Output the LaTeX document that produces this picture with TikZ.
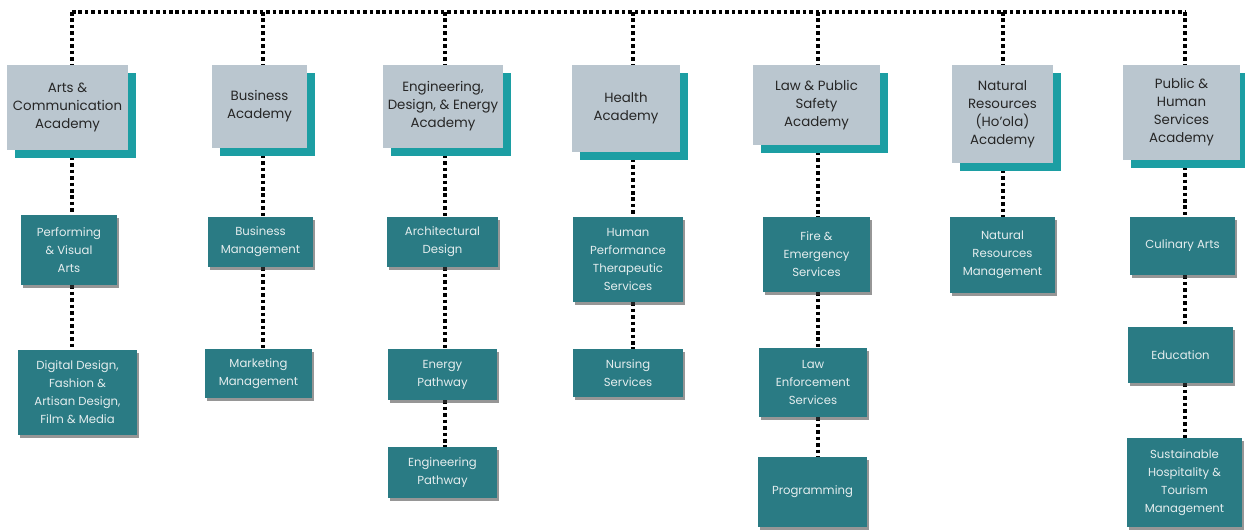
\documentclass[tikz,border=0pt]{standalone}
\usepackage{fontspec}
\setmainfont{Poppins}
\usetikzlibrary{positioning, shadows, backgrounds}
\definecolor{acadgray}{RGB}{186,198,207}
\definecolor{acadteal}{RGB}{28,158,163}
\definecolor{trackteal}{RGB}{42,123,132}
\definecolor{tracktext}{RGB}{228,237,238}

\begin{document}
\begin{tikzpicture}[x=0.025cm, y=-0.025cm,
  academy/.style={fill=acadgray, text=black!85, align=center, inner sep=1pt,
    font=\fontsize{9.5}{12.8}\selectfont,
    drop shadow={shadow xshift=0.21cm, shadow yshift=-0.2cm, fill=acadteal, opacity=1}},
  track/.style={fill=trackteal, text=tracktext, align=center, inner sep=1pt,
    font=\fontsize{8.3}{12.8}\selectfont,
    drop shadow={shadow xshift=0.06cm, shadow yshift=-0.07cm, fill=black!75, opacity=0.55}},
  link/.style={line width=2.8pt, dash pattern=on 2.5pt off 2.1pt}]
\useasboundingbox (0,0) rectangle (1245,529);

% Academies
\node[academy, minimum width=3.02cm, minimum height=2.12cm] (arts) at (67.5,107.5) {Arts \&\\Communication\\Academy};
\node[academy, minimum width=2.37cm, minimum height=2.07cm] (business) at (259.5,106.5) {Business\\Academy};
\node[academy, minimum width=3.0cm, minimum height=2.07cm] (engineering) at (443,106.5) {Engineering,\\Design, \& Energy\\Academy};
\node[academy, minimum width=2.7cm, minimum height=2.17cm] (health) at (626,108.5) {Health\\Academy};
\node[academy, minimum width=3.17cm, minimum height=2.0cm] (law) at (816.5,105) {Law \& Public\\Safety\\Academy};
\node[academy, minimum width=2.52cm, minimum height=2.45cm] (natural) at (1002.5,114) {Natural\\Resources\\(Ho'ola)\\Academy};
\node[academy, minimum width=2.92cm, minimum height=2.37cm] (public) at (1181.5,112.5) {Public \&\\Human\\Services\\Academy};

% Arts & Communication
\node[track, minimum width=2.4cm, minimum height=1.75cm] (perform) at (69,250) {Performing\\\& Visual\\Arts};
\node[track, minimum width=2.97cm, minimum height=2.12cm] (digital) at (77.5,392.5) {Digital Design,\\Fashion \&\\Artisan Design,\\Film \& Media};
% Business
\node[track, minimum width=2.62cm, minimum height=1.25cm] (bizmgmt) at (260.5,242) {Business\\Management};
\node[track, minimum width=2.67cm, minimum height=1.22cm] (marketing) at (258.5,373.5) {Marketing\\Management};
% Engineering
\node[track, minimum width=2.77cm, minimum height=1.25cm] (archdesign) at (442.5,242) {Architectural\\Design};
\node[track, minimum width=2.72cm, minimum height=1.27cm] (energy) at (442.5,374.5) {Energy\\Pathway};
\node[track, minimum width=2.72cm, minimum height=1.27cm] (engpath) at (442.5,472.5) {Engineering\\Pathway};
% Health
\node[track, minimum width=2.75cm, minimum height=2.12cm] (human) at (628,259.5) {Human\\Performance\\Therapeutic\\Services};
\node[track, minimum width=2.75cm, minimum height=1.2cm] (nursing) at (628,373) {Nursing\\Services};
% Law & Public Safety
\node[track, minimum width=2.67cm, minimum height=1.87cm] (fire) at (816.5,254.5) {Fire \&\\Emergency\\Services};
\node[track, minimum width=2.7cm, minimum height=1.72cm] (lawenf) at (813,382.5) {Law\\Enforcement\\Services};
\node[track, minimum width=2.72cm, minimum height=1.75cm] (programming) at (812.5,492) {Programming};
% Natural Resources
\node[track, minimum width=2.62cm, minimum height=1.9cm] (natres) at (1002.5,255) {Natural\\Resources\\Management};
% Public & Human Services
\node[track, minimum width=2.62cm, minimum height=1.45cm] (culinary) at (1182.5,246) {Culinary Arts};
\node[track, minimum width=2.62cm, minimum height=1.4cm] (education) at (1180.5,355) {Education};
\node[track, minimum width=2.87cm, minimum height=2.22cm] (hospitality) at (1184.5,482.5) {Sustainable\\Hospitality \&\\Tourism\\Management};

% Dotted connectors
\begin{scope}[on background layer]
\foreach \col/\x in {arts/72, business/263, engineering/445, health/633, law/818, natural/1003, public/1185} {
    \coordinate (top-\col) at (\x,12);
    \draw[link] (top-\col) -- (top-\col |- \col.north);
}
\draw[link] (top-arts) -- (top-public);
\foreach \a/\b/\col in {arts/perform/arts, perform/digital/arts,
    business/bizmgmt/business, bizmgmt/marketing/business,
    engineering/archdesign/engineering, archdesign/energy/engineering, energy/engpath/engineering,
    health/human/health, human/nursing/health,
    law/fire/law, fire/lawenf/law, lawenf/programming/law,
    natural/natres/natural,
    public/culinary/public, culinary/education/public, education/hospitality/public} {
    \draw[link] (\a.south -| top-\col) -- (\b.north -| top-\col);
}
\end{scope}
\end{tikzpicture}
\end{document}
